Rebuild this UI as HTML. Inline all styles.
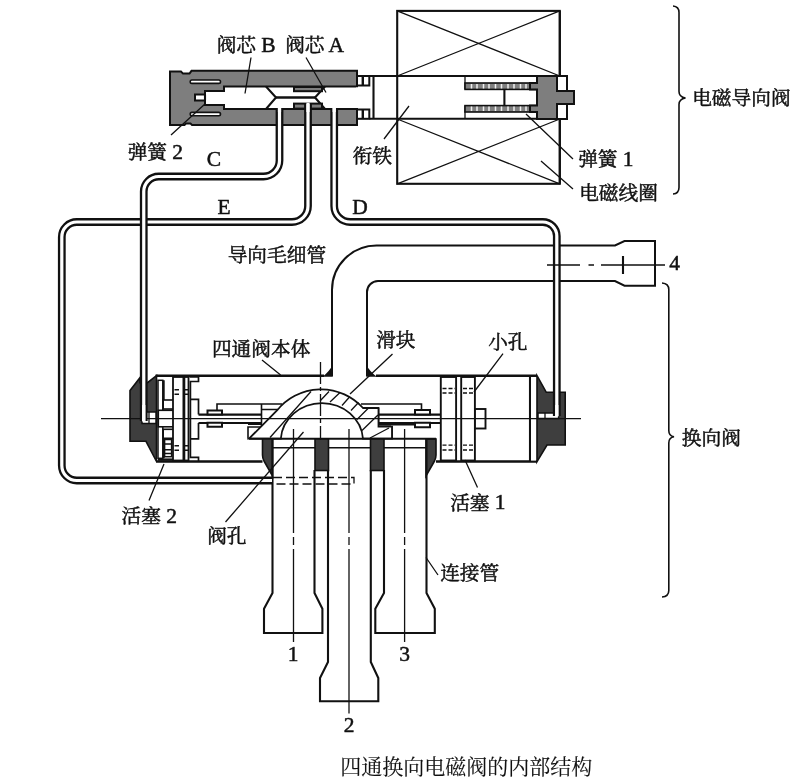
<!DOCTYPE html>
<html lang="zh"><head><meta charset="utf-8"><title>四通换向电磁阀的内部结构</title>
<style>
html,body{margin:0;padding:0;background:#fff;}
body{width:800px;height:784px;overflow:hidden;font-family:"Liberation Serif",serif;}
svg{display:block;filter:grayscale(1)}
svg text{font-family:"Liberation Serif","Noto Serif CJK SC",serif;fill:#111;stroke:#111;stroke-width:0.5px}
</style></head><body>
<svg width="800" height="784" viewBox="0 0 800 784">
<style>
.l{stroke:#111;stroke-width:2.1;fill:none;stroke-linejoin:miter}
.w{stroke:#111;stroke-width:2;fill:#fff}
.t{stroke:#111;stroke-width:1.3;fill:none}
.tw{stroke:#111;stroke-width:1.3;fill:#fff}
.g{fill:#7e7e7e;stroke:#111;stroke-width:2}
.d{fill:#3e3e3e;stroke:#111;stroke-width:1.6}
.cl{stroke:#111;stroke-width:1.3;fill:none}
.to{stroke:#111;stroke-width:7.8;fill:none}
.ti{stroke:#fff;stroke-width:3.2;fill:none}
</style>
<rect width="800" height="784" fill="#fff"/>

<!-- ================= solenoid coil ================= -->
<g id="coil">
<rect class="l" x="397.2" y="10.9" width="162.6" height="172.9"/>
<path class="t" d="M397.2,10.9 L559.8,76 M397.2,76 L559.8,10.9 M397.2,119 L559.8,183.8 M397.2,183.8 L559.8,119"/>
<!-- armature tube -->
<path class="l" d="M369.5,76 H557 M369.5,118.8 H557"/>
<!-- spring 1 -->
<path class="t" d="M465,76 V89 M465,105.6 V119" stroke-width="1.6"/>
<rect x="465" y="83" width="74" height="6.4" fill="#808080" stroke="#111" stroke-width="1.6"/>
<rect x="465" y="105.6" width="74" height="6.4" fill="#808080" stroke="#111" stroke-width="1.6"/>
<path d="M471.5,84 V88.6 M477,84 V88.6 M483.5,84 V88.6 M489,84 V88.6 M495.5,84 V88.6 M501.5,84 V88.6 M508,84 V88.6 M514,84 V88.6 M520.5,84 V88.6 M526,84 V88.6 M532,84 V88.6 M471.5,106.6 V111 M477,106.6 V111 M483.5,106.6 V111 M489,106.6 V111 M495.5,106.6 V111 M501.5,106.6 V111 M508,106.6 V111 M514,106.6 V111 M520.5,106.6 V111 M526,106.6 V111 M532,106.6 V111" stroke="#f0f0f0" stroke-width="1.5" fill="none"/>
<path class="l" d="M504.4,89.5 V105.5"/>
<!-- plug -->
<path class="g" d="M537,76 H557 V91 H574 V104 H557 V119 H537 V112 H530 V105.6 H537 V89.4 H530 V83 H537 Z" />
<rect class="w" x="557" y="76" width="10" height="15"/>
<rect class="w" x="557" y="104" width="10" height="15"/>
<path class="l" d="M559.8,10.9 V76 M559.8,119 V183.8"/>
</g>

<!-- ================= pilot valve ================= -->
<g id="pilot">
<path class="g" d="M170,71.6 H181 L183,73.6 H189.5 L191.5,70.8 H357 V125 H192 L190.5,123.6 H186 L184.5,125 H170 Z" />
<!-- bore -->
<path d="M358,86.5 H224 V91 H205 V94.5 H195 V100.5 H205 V105 H224 V109 H358" fill="#fff" stroke="#111" stroke-width="2"/>
<rect x="356" y="87.5" width="3" height="20.5" fill="#fff"/>
<path class="l" d="M205,94.5 V100.5"/>
<!-- spring 2 slots -->
<rect class="w" x="190.2" y="80" width="30.3" height="3.4" rx="1.7" style="stroke-width:1.6"/>
<rect class="w" x="190.2" y="112.4" width="30.3" height="3.4" rx="1.7" style="stroke-width:1.6"/>
<!-- cores -->
<path class="l" d="M266,86.5 L276,97.5 L266,109 M325,86.5 L315,97.5 L325,109"/>
<path d="M276,97.5 H315" stroke="#111" stroke-width="2.4"/>
<rect class="g" x="294" y="87" width="28" height="4.2" stroke-width="1.6"/>
<rect class="g" x="294" y="103.6" width="28" height="5" stroke-width="1.6"/>
<!-- right end small boxes -->
<rect class="w" x="357" y="76" width="12.3" height="9.5"/>
<rect class="w" x="357" y="109.5" width="12.3" height="9.3"/>
<path class="l" d="M362.8,76 V85.5 M362.8,109.5 V118.8" style="stroke-width:2.4"/>
<path class="l" d="M373.5,76 V118.8"/>
</g>

<!-- ================= pipe 4 ================= -->
<g id="pipe4">
<path class="w" d="M332,376 V290 A44.5,44.5 0 0 1 376.5,245.5 H615 L624.5,241 H655 V285.7 H624.5 L615,281 H378 A11,11 0 0 0 367,292 V376" />
<path d="M332.8,364.8 V376.7 H322.6 Q329,372 332.8,364.8 Z M366.2,364.8 V376.7 H376.8 Q370,372 366.2,364.8 Z" fill="#111"/>
<path class="l" d="M623,256 V274"/>
</g>

<!-- ================= main valve body ================= -->
<g id="main">
<!-- body shell -->
<path d="M155.5,375.7 H324 M376,375.7 H537 M156,461.5 H262.5 M436,461.5 H537" stroke="#111" stroke-width="2.6" fill="none"/>
<!-- left cap -->
<path class="d" d="M156.5,375.7 L147.5,382.6 H140 V377.7 L130,390.6 V441.3 H146 L156.5,461.5 Z"/>
<!-- right cap -->
<path class="d" d="M537,375.7 L546.3,392.3 H565.2 V445 H547 L537,461.7 Z"/>
<path class="l" d="M530,376 V461"/>
<rect x="531" y="377" width="5" height="83.5" fill="#fff"/>
<!-- right cap passage -->
<path d="M538,413 H558.6 V418.4 H538 Z" fill="#fff" stroke="#111" stroke-width="1.5"/>
<path class="t" d="M545,413 V418.4"/>
<!-- left cap passage -->
<path d="M142,412 H156 V423.5 H142 Z" fill="#fff" stroke="#111" stroke-width="1.5"/>
<path class="t" d="M149,412 V423.5"/>

<!-- piston 2 -->
<rect x="158" y="377" width="16" height="83" fill="#fff"/>
<rect class="tw" x="158" y="380.3" width="4.8" height="78" style="stroke-width:1.5"/>
<path class="l" d="M163.7,380.3 V400 M163.7,438.2 V458.3" style="stroke-width:2"/>
<path class="t" d="M158,459.6 H173" style="stroke-width:2.4"/>
<rect class="tw" x="163.2" y="400" width="11.5" height="9" style="stroke-width:1.6"/>
<rect class="tw" x="158.3" y="410.3" width="16.4" height="16.5" style="stroke-width:1.6"/>
<rect class="tw" x="163.2" y="429.3" width="11.5" height="9" style="stroke-width:1.6"/>
<rect class="tw" x="164.6" y="439.5" width="7" height="17.2" style="stroke-width:1.5"/>
<path class="t" d="M164.6,444 H171.6 M164.6,449.7 H171.6 M164.6,453.5 H171.6" style="stroke-width:1.5"/>
<rect class="w" x="173" y="377" width="10.4" height="83.5" style="stroke-width:1.8"/>
<rect class="w" x="184.4" y="377" width="4.1" height="83.5" style="stroke-width:1.8"/>
<path class="t" d="M174.5,389.7 H179 M174.5,394.3 H179 M184.6,389.7 H188.4 M184.6,394.3 H188.4 M174.5,445.7 H179 M174.5,450.3 H179 M184.6,445.7 H188.4 M184.6,450.3 H188.4" style="stroke-width:1.5"/>
<path class="l" d="M189.5,377 H198.5 V381.5 H190.4 V457.4 H198.5 V461" style="stroke-width:1.7"/>
<path class="l" d="M190.4,399.4 H198.5 V414.6 M190.4,438.8 H198.5 V423" style="stroke-width:1.7"/>

<!-- piston 1 -->
<rect class="w" x="440.8" y="377" width="15.3" height="83.5" style="stroke-width:1.9"/>
<rect class="w" x="461.2" y="377" width="13.7" height="83.5" style="stroke-width:1.9"/>

<path d="M442.5,388.5 H455 M442.5,393 H455 M463,388.5 H474 M463,393 H474 M442.5,445.2 H455 M442.5,450 H455 M463,445.2 H474 M463,450 H474" stroke="#111" stroke-width="1.3" stroke-dasharray="4 2" fill="none"/>
<rect class="w" x="475" y="409" width="10.5" height="19.5" style="stroke-width:1.9"/>

<!-- rod -->
<path class="l" d="M198.5,414.6 H261.5 M198.5,423 H261.5 M378.5,414.6 H440.5 M378.5,423 H440.5" stroke-width="1.6"/>
<rect class="w" x="207.5" y="410.5" width="14.5" height="4" stroke-width="1.4"/>
<rect class="w" x="207.5" y="422.75" width="14.5" height="4" stroke-width="1.4"/>
<rect class="w" x="415" y="410" width="15" height="4.5" stroke-width="1.4"/>
<rect class="w" x="415" y="422.75" width="15" height="4.5" stroke-width="1.4"/>
<!-- slide bracket left -->
<path class="l" d="M217,410.5 V404 H282 M261.5,404 V427 H248 V438.7 M261.5,409.5 H278 M248,424.3 H261.5" style="stroke-width:1.6"/>
<!-- slide bracket right -->
<path class="l" d="M361,404 H421.5 V410 M378.5,408 V424.6 H414.5 M379.5,426.6 H391 M392,426 V438.7" style="stroke-width:1.6"/>

<!-- slide (dome) -->
<path d="M249,438.7 L277,410.5 A56.4,56.4 0 0 1 363,408 L378.5,408 V426.6 H392 V438.7 H363 A41.2,38.3 0 0 0 280.8,438.7 Z" fill="#fff" stroke="#111" stroke-width="1.8"/>
<path class="t" d="M270,437.5 L311,391.5 M320,401 L329,391.5 M330,402 L340,392.5 M342,405.5 L349.5,397 M351,410.5 L358.5,402.5 M357,419.5 L368,408.5 M362,430.5 L378,415 M370,438 L389,428" style="stroke-width:1.3"/>

<!-- seat -->
<path d="M249,438.75 H391" stroke="#111" stroke-width="2.2"/>
<path d="M272,447.75 H315 M328,447.75 H371 M384,447.75 H426" stroke="#111" stroke-width="1.6"/>
<path class="d" d="M262.5,439 H272.5 V476 L264,461 Q262.5,458 262.5,455 Z"/>
<rect class="d" x="315" y="439" width="13.5" height="31.5"/>
<rect class="d" x="370.5" y="439" width="13.5" height="31.5"/>
<path class="d" d="M436,439 H426 V476 L434.5,461 Q436,458 436,455 Z"/>
<path d="M391,438.75 H436" stroke="#111" stroke-width="2.2"/>

<!-- connecting pipes -->
<path class="l" d="M272.5,439 V593 L264,608.8 V633 H322.4 V608.8 L314.5,593 V470"/>
<path class="l" d="M328,470 V662 L320,678 V701.2 H378.3 V678 L370.8,662 V470"/>
<path class="l" d="M384,470 V593 L375.3,608.8 V633 H434.8 V608.8 L426.5,593 V439"/>

<!-- center lines -->
<path class="cl" d="M101,418.7 H581"/>
<path class="cl" d="M320.5,362 V440" stroke-dasharray="22 3 4 3"/>
<path class="cl" d="M293.5,429 V642" stroke-dasharray="104 4 8 4 200"/>
<path class="cl" d="M349,429 V713.5" stroke-dasharray="104 4 8 4 300"/>
<path class="cl" d="M404.6,429 V642" stroke-dasharray="104 4 8 4 200"/>
</g>

<!-- ================= capillary tubes ================= -->
<g id="tubes">
<defs>
<path id="tE" d="M308,104 V206 A16,16 0 0 1 292,222 H76.8 A15,15 0 0 0 61.8,237 V465.5 A15,15 0 0 0 76.8,480.5 H272"/>
<path id="tC" d="M279.5,108 V160.5 A16,16 0 0 1 263.5,176.5 H158.75 A15,15 0 0 0 143.75,191.5 V421"/>
<path id="tD" d="M334.2,108 V206 A16,16 0 0 0 350.2,222 H542.8 A14,14 0 0 1 556.8,236 V416"/>
</defs>
<use href="#tE" class="to"/><use href="#tE" class="ti"/>
<use href="#tC" class="to"/><use href="#tC" class="ti"/>
<use href="#tD" class="to"/><use href="#tD" class="ti"/>
<!-- white ends joining into passages -->
<path d="M143.75,405 V421.5 M556.8,405 V416.5 M279.5,104 V112 M308,102.8 V112 M334.2,104 V112" stroke="#fff" stroke-width="3.2"/>
<!-- dashed extension of E in pipes -->
<path d="M273,477.5 H354 V484 H273" stroke="#111" stroke-width="1.3" fill="none" stroke-dasharray="9 4"/>
</g>

<!-- ================= leaders ================= -->
<g class="cl" id="leaders">
<path d="M547,265 H580 M588.5,265 H594 M601,265 H665"/>
<path d="M251,57.5 L245,93.5 M306,57.5 L326,92.5 M205.5,103.5 L171,135 M409,106 L384,139 M526,114 L573,159 M541,161 L573,189"/>
<path d="M262,360 L280.6,375 M392.5,354 L350,394 M503,353.6 L474,392 M164,464 L149,500.6 M303.5,432 L225.5,522 M465,460 L477.5,487.5 M426,557.5 L438,575"/>
</g>

<!-- ================= braces ================= -->
<g class="cl" id="braces" style="stroke-width:1.6">
<path d="M673,6 Q679,6.5 679,12.5 V91.5 Q679,97 685.5,98 Q679,99 679,104.5 V187.5 Q679,193.5 673,194"/>
<path d="M662,283 Q668.8,283.5 668.8,289.5 V430.5 Q668.8,436 674,436.8 Q668.8,437.6 668.8,443 V590.5 Q668.8,596.5 662,597"/>
</g>

<!-- ================= labels ================= -->
<g id="labels" fill="#111" stroke="#111" stroke-linejoin="round">
<g aria-label="阀芯 B"><title>阀芯 B</title>
<text x="216.70" y="52.00" font-size="19.7">阀芯</text>
<text x="255.90" y="51.80" font-size="21.47" xml:space="preserve"> B</text>
</g>
<g aria-label="阀芯 A"><title>阀芯 A</title>
<text x="285.20" y="52.00" font-size="19.7">阀芯</text>
<text x="324.40" y="51.80" font-size="21.47" xml:space="preserve"> A</text>
</g>
<g aria-label="弹簧 2"><title>弹簧 2</title>
<text x="127.70" y="159.00" font-size="19.7">弹簧</text>
<text x="166.90" y="158.80" font-size="21.47" xml:space="preserve"> 2</text>
</g>
<g aria-label="C"><title>C</title>
<text x="206.84" y="165.80" font-size="21.47" xml:space="preserve">C</text>
</g>
<g aria-label="E"><title>E</title>
<text x="217.44" y="214.30" font-size="21.47" xml:space="preserve">E</text>
</g>
<g aria-label="D"><title>D</title>
<text x="352.25" y="214.30" font-size="21.47" xml:space="preserve">D</text>
</g>
<g aria-label="衔铁"><title>衔铁</title>
<text x="352.70" y="163.00" font-size="19.7">衔铁</text>
</g>
<g aria-label="弹簧 1"><title>弹簧 1</title>
<text x="578.20" y="166.00" font-size="19.7">弹簧</text>
<text x="617.40" y="165.80" font-size="21.47" xml:space="preserve"> 1</text>
</g>
<g aria-label="电磁线圈"><title>电磁线圈</title>
<text x="579.20" y="200.00" font-size="19.7">电磁线圈</text>
</g>
<g aria-label="电磁导向阀"><title>电磁导向阀</title>
<text x="692.20" y="105.00" font-size="19.7">电磁导向阀</text>
</g>
<g aria-label="导向毛细管"><title>导向毛细管</title>
<text x="227.70" y="262.00" font-size="19.7">导向毛细管</text>
</g>
<g aria-label="四通阀本体"><title>四通阀本体</title>
<text x="211.90" y="356.00" font-size="19.7">四通阀本体</text>
</g>
<g aria-label="滑块"><title>滑块</title>
<text x="376.20" y="347.00" font-size="19.7">滑块</text>
</g>
<g aria-label="小孔"><title>小孔</title>
<text x="488.20" y="349.00" font-size="19.7">小孔</text>
</g>
<g aria-label="换向阀"><title>换向阀</title>
<text x="681.80" y="445.00" font-size="19.7">换向阀</text>
</g>
<g aria-label="活塞 2"><title>活塞 2</title>
<text x="121.60" y="523.00" font-size="19.7">活塞</text>
<text x="160.80" y="522.80" font-size="21.47" xml:space="preserve"> 2</text>
</g>
<g aria-label="阀孔"><title>阀孔</title>
<text x="207.20" y="543.00" font-size="19.7">阀孔</text>
</g>
<g aria-label="活塞 1"><title>活塞 1</title>
<text x="450.20" y="509.50" font-size="19.7">活塞</text>
<text x="489.40" y="509.30" font-size="21.47" xml:space="preserve"> 1</text>
</g>
<g aria-label="连接管"><title>连接管</title>
<text x="440.20" y="579.50" font-size="19.7">连接管</text>
</g>
<g aria-label="4"><title>4</title>
<text x="669.33" y="270.20" font-size="21.47" xml:space="preserve">4</text>
</g>
<g aria-label="1"><title>1</title>
<text x="287.63" y="660.80" font-size="21.47" xml:space="preserve">1</text>
</g>
<g aria-label="3"><title>3</title>
<text x="399.23" y="660.80" font-size="21.47" xml:space="preserve">3</text>
</g>
<g aria-label="2"><title>2</title>
<text x="343.63" y="732.30" font-size="21.47" xml:space="preserve">2</text>
</g>
<g aria-label="四通换向电磁阀的内部结构"><title>四通换向电磁阀的内部结构</title>
<text x="340.31" y="773.50" font-size="21" style="stroke-width:0.12px">四通换向电磁阀的内部结构</text>
</g>
</g>

</svg>
</body></html>
